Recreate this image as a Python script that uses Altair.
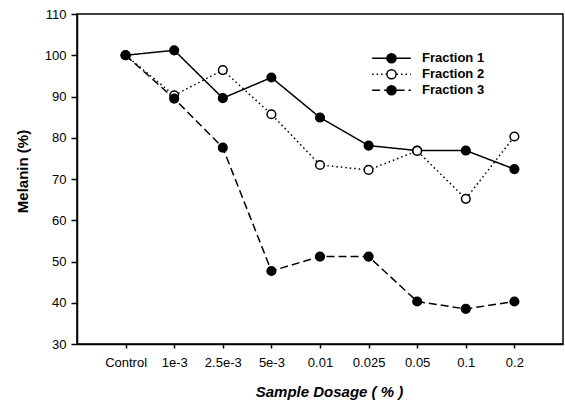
import altair as alt
import pandas as pd

dosages = ["Control", "1e-3", "2.5e-3", "5e-3", "0.01", "0.025", "0.05", "0.1", "0.2"]
series_names = ["Fraction 1", "Fraction 2", "Fraction 3"]
fraction1 = [100.0, 101.2, 89.6, 94.6, 84.9, 78.1, 76.9, 76.9, 72.4]
fraction2 = [100.0, 90.3, 96.4, 85.7, 73.4, 72.2, 76.8, 65.2, 80.3]
fraction3 = [100.0, 89.5, 77.6, 47.7, 51.2, 51.2, 40.3, 38.5, 40.3]

rows = []
for name, vals in zip(series_names, [fraction1, fraction2, fraction3]):
    for d, v in zip(dosages, vals):
        rows.append({"dosage": d, "melanin": v, "series": name, "series_pt": name})
df = pd.DataFrame(rows)

FONT = "Liberation Sans"

x_enc = alt.X(
    "dosage:N",
    sort=dosages,
    scale=alt.Scale(type="point", padding=1),
    axis=alt.Axis(
        title="Sample Dosage ( % )",
        labelAngle=0,
        tickSize=4,
        labelPadding=8,
        titleFontStyle="italic",
        titleFontWeight="bold",
        titleFontSize=15,
        titleX=252,
        titleY=52,
        titleBaseline="alphabetic",
        titleAlign="center",
    ),
)
y_enc = alt.Y(
    "melanin:Q",
    scale=alt.Scale(domain=[30, 110], nice=False, zero=False),
    axis=alt.Axis(
        title="Melanin (%)",
        values=[30, 40, 50, 60, 70, 80, 90, 100, 110],
        tickSize=6,
        labelPadding=5,
        titleFontWeight="bold",
        titleFontSize=15,
        titleX=-50,
        titleY=157,
        titleBaseline="alphabetic",
        titleAlign="center",
        titleAngle=-90,
    ),
)

legend_common = dict(
    title=None,
    orient="none",
    legendX=294,
    legendY=37,
    clipHeight=14.5,
    rowPadding=1,
    symbolSize=85,
    symbolStrokeWidth=1.5,
    symbolStrokeColor="black",
    symbolOffset=14,
    labelOffset=24,
    labelFont=FONT,
    labelFontSize=13,
    labelFontWeight="bold",
    labelColor="black",
)

lines = alt.Chart(df).mark_line(color="black", strokeWidth=1.5).encode(
    x=x_enc,
    y=y_enc,
    strokeDash=alt.StrokeDash(
        "series:N",
        scale=alt.Scale(domain=series_names, range=[[1, 0], [1.5, 3], [8, 4]]),
        legend=alt.Legend(symbolType="M-4.2,0L-1.1,0M1.1,0L4.2,0", **legend_common),
    ),
)

points = alt.Chart(df).mark_point(
    filled=False, shape="circle", stroke="black", strokeWidth=1.5, opacity=1, size=75
).encode(
    x=x_enc,
    y=y_enc,
    fill=alt.Fill(
        "series_pt:N",
        scale=alt.Scale(range=["black", "white", "black"]),
        legend=alt.Legend(symbolType="circle", labelExpr="''", **legend_common),
    ),
)

chart = (
    alt.layer(lines, points)
    .properties(
        width=486,
        height=330,
        autosize=alt.AutoSizeParams(type="none"),
        padding={"left": 77, "top": 14, "right": 2, "bottom": 58},
        background="white",
    )
    .configure_view(stroke="black", strokeWidth=1.5)
    .configure_axis(
        grid=False,
        domainColor="black",
        domainWidth=1.5,
        tickColor="black",
        tickWidth=1.5,
        labelFont=FONT,
        labelFontSize=13,
        labelColor="black",
        titleFont=FONT,
        titleColor="black",
    )
)

chart.save("out.html", embed_options={"renderer": "svg", "actions": False})
